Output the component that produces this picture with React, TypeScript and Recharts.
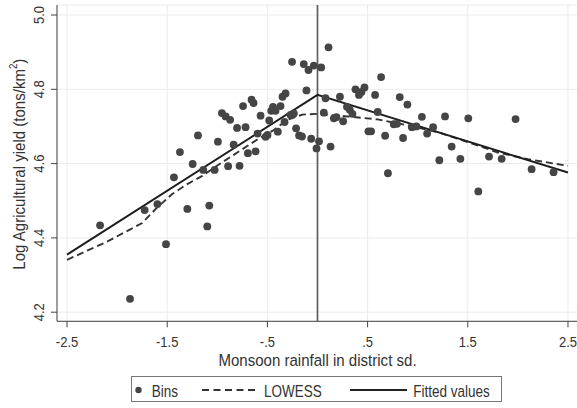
import React from 'react';
import { ComposedChart, Scatter, Line, XAxis, YAxis, CartesianGrid, ReferenceLine } from 'recharts';

// binned scatter (x = rainfall shock in sd, y = log yield)
const binX = [
  -2.170, -1.871, -1.725, -1.598, -1.512, -1.433, -1.373, -1.299, -1.246, -1.193,
  -1.140, -1.100, -1.080, -1.027, -0.994, -0.954, -0.917, -0.872, -0.892, -0.837,
  -0.803, -0.778, -0.743, -0.718, -0.695, -0.658, -0.638, -0.618, -0.598, -0.568,
  -0.518, -0.499, -0.482, -0.462, -0.444, -0.419, -0.396, -0.369, -0.349, -0.319,
  -0.329, -0.254, -0.269, -0.236, -0.214, -0.184, -0.155, -0.137, -0.110, -0.090,
  -0.063, -0.037, -0.010, 0.015, 0.037, 0.063, 0.080, 0.110, 0.130, 0.163,
  0.189, 0.224, 0.256, 0.294, 0.322, 0.349, 0.379, 0.414, 0.439, 0.469,
  0.508, 0.535, 0.575, 0.601, 0.635, 0.675, 0.703, 0.761, 0.793, 0.821,
  0.854, 0.897, 0.942, 0.987, 1.042, 1.094, 1.154, 1.216, 1.273, 1.339,
  1.426, 1.505, 1.605, 1.712, 1.838, 1.977, 2.137, 2.356,
];
const binY = [
  4.434, 4.236, 4.475, 4.491, 4.383, 4.563, 4.631, 4.478, 4.599, 4.676,
  4.583, 4.431, 4.487, 4.583, 4.659, 4.736, 4.727, 4.718, 4.593, 4.651,
  4.696, 4.594, 4.755, 4.698, 4.628, 4.772, 4.763, 4.633, 4.681, 4.729,
  4.672, 4.677, 4.716, 4.742, 4.753, 4.742, 4.686, 4.755, 4.780, 4.789,
  4.712, 4.874, 4.731, 4.735, 4.695, 4.676, 4.673, 4.868, 4.797, 4.852,
  4.667, 4.864, 4.641, 4.660, 4.859, 4.737, 4.776, 4.913, 4.646, 4.722,
  4.725, 4.780, 4.714, 4.753, 4.745, 4.734, 4.800, 4.785, 4.793, 4.805,
  4.687, 4.687, 4.785, 4.739, 4.833, 4.675, 4.574, 4.706, 4.707, 4.779,
  4.669, 4.759, 4.698, 4.700, 4.726, 4.681, 4.698, 4.609, 4.727, 4.646,
  4.613, 4.722, 4.525, 4.619, 4.613, 4.720, 4.585, 4.577,
];

// lowess smoother
const lowessX = [-2.5, -2.1, -1.75, -1.6, -1.45, -1.3, -1.15, -1.0, -0.8, -0.6, -0.45, -0.3, -0.15, 0, 0.3, 0.6, 0.9, 1.2, 1.5, 1.8, 2.1, 2.5];
const lowessY = [4.341, 4.390, 4.440, 4.482, 4.518, 4.545, 4.567, 4.595, 4.630, 4.665, 4.688, 4.718, 4.732, 4.734, 4.727, 4.719, 4.703, 4.685, 4.658, 4.630, 4.612, 4.594];

// piecewise linear fit, kink at 0
const fitX = [-2.5, 0, 2.5];
const fitY = [4.355, 4.785, 4.576];

const xTicks = [-2.5, -1.5, -0.5, 0.5, 1.5, 2.5];
const xTickLabels = ['-2.5', '-1.5', '-.5', '.5', '1.5', '2.5'];
const yTicks = [4.2, 4.4, 4.6, 4.8, 5.0];
const yTickLabels = ['4.2', '4.4', '4.6', '4.8', '5.0'];

const bins = binX.map((x, i) => ({ x, y: binY[i] }));
const lowess = lowessX.map((x, i) => ({ x, y: lowessY[i] }));
const fitted = fitX.map((x, i) => ({ x, y: fitY[i] }));

const FONT = '"Liberation Sans", Arial, sans-serif';
const TEXT = '#333';

// Arial Narrow look: Liberation Sans squeezed horizontally
const NarrowText = ({ x, y, size, rotate = false, anchor = 'start', sx = 0.85, children }: any) => (
  <text
    transform={`translate(${x},${y})${rotate ? ' rotate(-90)' : ''} scale(${sx},1)`}
    textAnchor={anchor}
    fontSize={size}
    fill={TEXT}
    fontFamily={FONT}
  >
    {children}
  </text>
);

const XTick = (props: any) => {
  const { x, y, payload } = props;
  const i = xTicks.indexOf(payload.value);
  return (
    <NarrowText x={x} y={y + 17.6} size={15.3} anchor="middle" sx={0.85}>
      {i >= 0 ? xTickLabels[i] : payload.value}
    </NarrowText>
  );
};

const YTick = (props: any) => {
  const { x, y, payload } = props;
  const i = yTicks.indexOf(payload.value);
  return (
    <NarrowText x={x - 5.5} y={y} size={15.3} anchor="middle" rotate sx={0.85}>
      {i >= 0 ? yTickLabels[i] : payload.value}
    </NarrowText>
  );
};

const XTitle = (props: any) => {
  const vb = props.viewBox;
  return (
    <NarrowText x={vb.x + vb.width / 2} y={vb.y + 44.6} size={17} anchor="middle" sx={0.885}>
      Monsoon rainfall in district sd.
    </NarrowText>
  );
};

const YTitle = (props: any) => {
  const vb = props.viewBox;
  return (
    <NarrowText x={24.5} y={vb.y + vb.height / 2 + 1} size={17} anchor="middle" rotate sx={0.885}>
      Log Agricultural yield (tons/km
      <tspan fontSize={11} dy={-8}>2</tspan>
      <tspan dy={8}>)</tspan>
    </NarrowText>
  );
};

const Dot = (props: any) => <circle cx={props.cx} cy={props.cy} r={3.9} fill="#454545" />;

const ChartLegend = () => (
  <div
    style={{
      position: 'absolute',
      left: 131,
      top: 376,
      width: 371,
      height: 26,
      border: '1px solid #777',
      background: '#fff',
      boxSizing: 'border-box',
    }}
  >
    <svg width={371} height={26} style={{ position: 'absolute', left: -1, top: -1 }}>
      <circle cx={7.5} cy={14} r={3.2} fill="#454545" />
      <NarrowText x={20.7} y={20.5} size={15.7} sx={0.86}>Bins</NarrowText>
      <line x1={71} y1={14} x2={126} y2={14} stroke="#333" strokeWidth={1.8} strokeDasharray="7 4.5" />
      <NarrowText x={133} y={20.5} size={15.7} sx={0.86}>LOWESS</NarrowText>
      <line x1={219} y1={14} x2={276} y2={14} stroke="#222" strokeWidth={1.8} />
      <NarrowText x={282.3} y={20.5} size={15.7} sx={0.86}>Fitted values</NarrowText>
    </svg>
  </div>
);

export default function App() {
  return (
    <div
      style={{
        position: 'absolute',
        left: 0,
        top: 0,
        width: 577,
        height: 408,
        overflow: 'hidden',
        background: '#fff',
        fontFamily: FONT,
      }}
    >
      <ComposedChart width={578} height={408} margin={{ top: 5, right: 0, left: 0, bottom: 36.7 }}>
        <CartesianGrid stroke="#ebebeb" strokeWidth={1} />
        <XAxis
          type="number"
          dataKey="x"
          domain={[-2.6, 2.6]}
          ticks={xTicks}
          allowDataOverflow
          height={50}
          tick={<XTick />}
          tickSize={6}
          tickLine={{ stroke: '#444' }}
          axisLine={{ stroke: '#444' }}
          label={{ content: <XTitle /> }}
        />
        <YAxis
          type="number"
          dataKey="y"
          domain={[4.1755, 5.027]}
          ticks={yTicks}
          allowDataOverflow
          width={57}
          tick={<YTick />}
          tickSize={6}
          tickLine={{ stroke: '#444' }}
          axisLine={{ stroke: '#444' }}
          label={{ content: <YTitle /> }}
        />
        <ReferenceLine x={0} stroke="#5f5f5f" strokeWidth={1.7} />
        <Scatter data={bins} dataKey="y" shape={<Dot />} isAnimationActive={false} />
        <Line
          data={lowess}
          dataKey="y"
          type="linear"
          stroke="#333"
          strokeWidth={1.9}
          strokeDasharray="7 4"
          dot={false}
          activeDot={false}
          isAnimationActive={false}
        />
        <Line
          data={fitted}
          dataKey="y"
          type="linear"
          stroke="#1e1e1e"
          strokeWidth={2}
          dot={false}
          activeDot={false}
          isAnimationActive={false}
        />
      </ComposedChart>
      <ChartLegend />
    </div>
  );
}
